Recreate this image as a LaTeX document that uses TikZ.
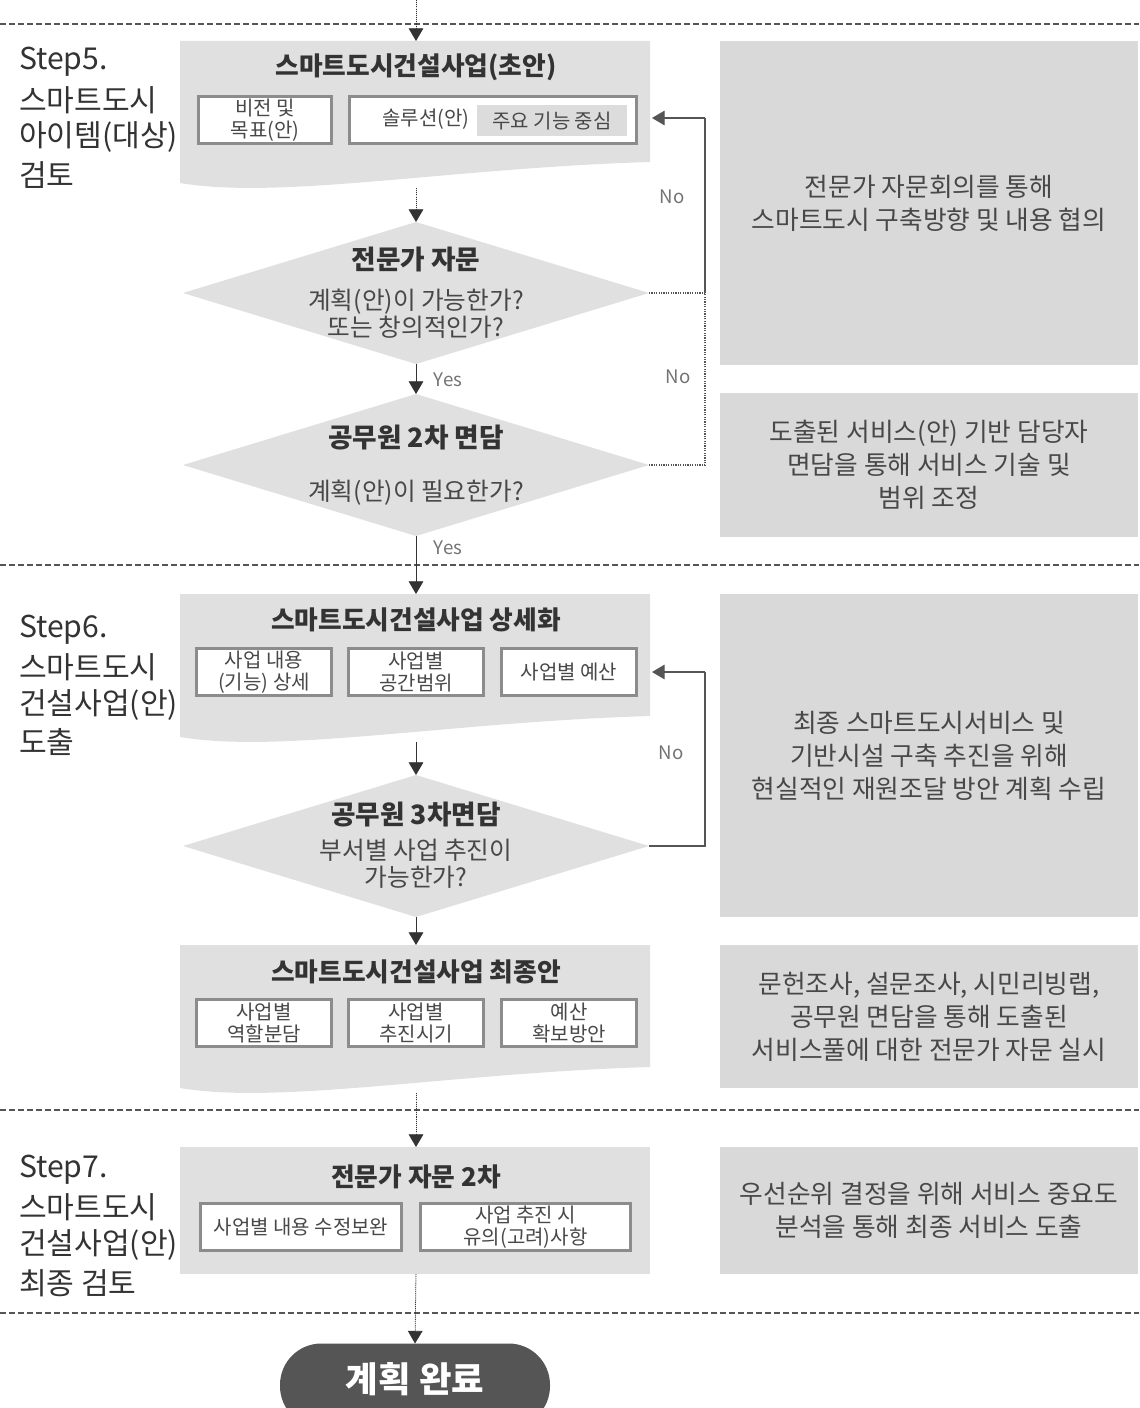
\documentclass[tikz,border=0pt]{standalone}
\usepackage{fontspec}
\setmainfont{Noto Sans CJK KR}
\usetikzlibrary{arrows.meta,shapes.geometric}
\definecolor{blk}{HTML}{E0E0E0}
\definecolor{rbox}{HTML}{D9D9D9}
\definecolor{bord}{HTML}{8C8C8C}
\definecolor{txt}{HTML}{484848}
\definecolor{dark}{HTML}{333333}
\definecolor{termc}{HTML}{555555}
\definecolor{sepc}{HTML}{555555}
\definecolor{innerg}{HTML}{DCDCDC}
\begin{document}
\begin{tikzpicture}[x=0.75pt,y=-0.75pt,
  every node/.style={outer sep=0pt},
  sepline/.style={draw=sepc, line width=1.5pt, dash pattern=on 4.5pt off 2.25pt},
  tip/.style={-{Triangle[length=9.5pt,width=11pt]}},
  dotln/.style={tip, draw=dark, fill=dark, line width=0.6pt, dash pattern=on 0.8pt off 0.8pt},
  solln/.style={tip, draw=dark, fill=dark, line width=0.6pt},
  lpsol/.style={draw=termc, line width=0.8pt},
  lpdot/.style={draw=termc, line width=0.8pt, dash pattern=on 0.9pt off 0.9pt},
  ttl/.style={font=\bfseries\fontsize{19.3}{21}\selectfont, text=dark},
  dtl/.style={font=\bfseries\fontsize{20}{22}\selectfont, text=dark},
  dtx/.style={font=\fontsize{18.5}{20.5}\selectfont, text=txt, align=center},
  ibox/.style={draw=bord, line width=2.25pt, fill=white, inner sep=0pt, align=center,
    font=\fontsize{15}{16.5}\selectfont, text=txt, minimum height=35.25pt},
  rb/.style={fill=rbox, minimum width=313.5pt, inner sep=0pt, align=center,
    font=\fontsize{19.3}{24.75}\selectfont, text=txt},
  dia/.style={diamond, fill=blk, minimum width=349.5pt, minimum height=106.5pt, inner sep=0pt},
  stp/.style={anchor=west, font=\fontsize{22.6}{26}\selectfont, text=dark, inner sep=0pt},
  yn/.style={font=\fontsize{14}{16}\selectfont, text=black!55},
]
\useasboundingbox (0,0) rectangle (1139,1408);
\clip (0,0) rectangle (1139,1408);

% separators
\coordinate (s1l) at (0,24);    \coordinate (s1r) at (1139,24);
\coordinate (s2l) at (0,565);   \coordinate (s2r) at (1139,565);
\coordinate (s3l) at (0,1110);  \coordinate (s3r) at (1139,1110);
\coordinate (s4l) at (0,1313);  \coordinate (s4r) at (1139,1313);
\draw[sepline] (s1l) -- (s1r);
\draw[sepline] (s2l) -- (s2r);
\draw[sepline] (s3l) -- (s3r);
\draw[sepline] (s4l) -- (s4r);

% left blocks (wavy document shapes)
\fill[blk] (180,41) -- (650,41) -- (650,162) .. controls (450,168) and (280,200) .. (180,183) -- cycle;
\fill[blk] (180,594) -- (650,594) -- (650,716) .. controls (450,722) and (280,754) .. (180,737) -- cycle;
\fill[blk] (180,945) -- (650,945) -- (650,1067) .. controls (450,1073) and (280,1105) .. (180,1088) -- cycle;
\fill[blk] (180,1147) rectangle (650,1274);

\coordinate (b1top) at (416,41);  \coordinate (b1bot) at (416,188);
\coordinate (b2top) at (416,594); \coordinate (b2bot) at (416,742);
\coordinate (b4top) at (416,945); \coordinate (b4bot) at (416,1093);
\coordinate (b7top) at (416,1147); \coordinate (b7bot) at (416,1274);
\coordinate (b1in) at (652,118);  \coordinate (b2in) at (652,672);
\coordinate (top) at (416,0);

% step labels
\node[stp] (s5a) at (19,62)  {Step5.};
\node[stp] (s5b) at (19,100) {스마트도시};
\node[stp] (s5c) at (19,137) {아이템(대상)};
\node[stp] (s5d) at (19,175) {검토};
\node[stp] (s6a) at (19,630) {Step6.};
\node[stp] (s6b) at (19,667) {스마트도시};
\node[stp] (s6c) at (19,705) {건설사업(안)};
\node[stp] (s6d) at (19,742) {도출};
\node[stp] (s7a) at (19,1170) {Step7.};
\node[stp] (s7b) at (19,1207) {스마트도시};
\node[stp] (s7c) at (19,1245) {건설사업(안)};
\node[stp] (s7d) at (19,1283) {최종 검토};

% block 1
\node[ttl] (t1) at (416,67) {스마트도시건설사업(초안)};
\node[ibox, minimum width=99.75pt] (v1) at (265,120) {비전 및\\목표(안)};
\node[ibox, minimum width=215.25pt] (v2) at (493,120) {};
\node[fill=innerg, minimum width=112.5pt, minimum height=23.25pt, inner sep=0pt,
  font=\fontsize{15}{16}\selectfont, text=txt] (v2b) at (552,121) {주요 기능 중심};
\node[font=\fontsize{15}{16}\selectfont, text=txt, inner sep=0pt] (v2a) at (426,119) {솔루션(안)};

% diamonds
\node[dia] (d1) at (416,293) {};
\node[dtl] (d1t) at (416,260) {전문가 자문};
\node[dtx] (d1x) at (416,314) {계획(안)이 가능한가?\\또는 창의적인가?};
\node[dia] (d2) at (416,465) {};
\node[dtl] (d2t) at (416,438) {공무원 2차 면담};
\node[dtx] (d2x) at (416,493) {계획(안)이 필요한가?};

% block 2
\node[ttl] (t2) at (416,620) {스마트도시건설사업 상세화};
\node[ibox, minimum width=101.25pt] (w1) at (264,672) {사업 내용\\(기능) 상세};
\node[ibox, minimum width=101.25pt] (w2) at (416,672) {사업별\\공간범위};
\node[ibox, minimum width=101.25pt] (w3) at (569,672) {사업별 예산};

% diamond 3
\node[dia] (d3) at (416,846) {};
\node[dtl] (d3t) at (416,815) {공무원 3차면담};
\node[dtx] (d3x) at (416,864) {부서별 사업 추진이\\가능한가?};

% block 4
\node[ttl] (t4) at (416,972) {스마트도시건설사업 최종안};
\node[ibox, minimum width=101.25pt] (x1) at (264,1023) {사업별\\역할분담};
\node[ibox, minimum width=101.25pt] (x2) at (416,1023) {사업별\\추진시기};
\node[ibox, minimum width=101.25pt] (x3) at (569,1023) {예산\\확보방안};

% block 7
\node[ttl] (t7) at (416,1177) {전문가 자문 2차};
\node[ibox, minimum width=150.75pt] (y1) at (301,1227) {사업별 내용 수정보완};
\node[ibox, minimum width=157.5pt] (y2) at (525.5,1227) {사업 추진 시\\유의(고려)사항};

% terminal
\node[fill=termc, rounded corners=31pt, minimum width=202.5pt, minimum height=63pt,
  inner sep=0pt] (end) at (415,1385.5) {};
\node[text=white, font=\bfseries\fontsize{26.5}{28}\selectfont] (endt) at (415,1379) {계획 완료};

% right boxes
\node[rb, minimum height=243pt] (ra) at (929,203) {전문가 자문회의를 통해\\스마트도시 구축방향 및 내용 협의};
\node[rb, minimum height=108pt] (rbb) at (929,465) {도출된 서비스(안) 기반 담당자\\면담을 통해 서비스 기술 및\\범위 조정};
\node[rb, minimum height=242.25pt] (rc) at (929,755.5) {최종 스마트도시서비스 및\\기반시설 구축 추진을 위해\\현실적인 재원조달 방안 계획 수립};
\node[rb, minimum height=107.25pt] (rd) at (929,1016.5) {문헌조사, 설문조사, 시민리빙랩,\\공무원 면담을 통해 도출된\\서비스풀에 대한 전문가 자문 실시};
\node[rb, minimum height=95.25pt] (re) at (929,1210.5) {우선순위 결정을 위해 서비스 중요도\\분석을 통해 최종 서비스 도출};

% main flow connectors
\draw[dotln] (top) -- (b1top);
\draw[dotln] (b1bot) -- (d1.north);
\draw[solln] (d1.south) -- (d2.north);
\draw[solln] (d2.south) -- (b2top);
\draw[solln] (b2bot) -- (d3.north);
\draw[solln] (d3.south) -- (b4top);
\draw[dotln] (b4bot) -- (b7top);
\draw[dotln] (b7bot) -- (end.north);

\node[yn] (yes1) at (448,380) {Yes};
\node[yn] (yes2) at (448,548) {Yes};

% loops
\coordinate (l0) at (705,118);
\coordinate (l1) at (705,293);
\coordinate (l2) at (705,465);
\coordinate (l3) at (705,846);
\coordinate (l4) at (705,672);
\draw[lpdot] (d1.east) -- (l1);
\draw[lpdot] (d2.east) -- (l2) -- (l1);
\draw[lpsol] (l1) -- (l0);
\draw[lpsol, tip, fill=dark] (l0) -- (b1in);
\draw[lpsol] (d3.east) -- (l3) -- (l4);
\draw[lpsol, tip, fill=dark] (l4) -- (b2in);
\node[yn] (no1) at (672,197) {No};
\node[yn] (no2) at (678,377) {No};
\node[yn] (no3) at (671,753) {No};
\end{tikzpicture}
\end{document}
